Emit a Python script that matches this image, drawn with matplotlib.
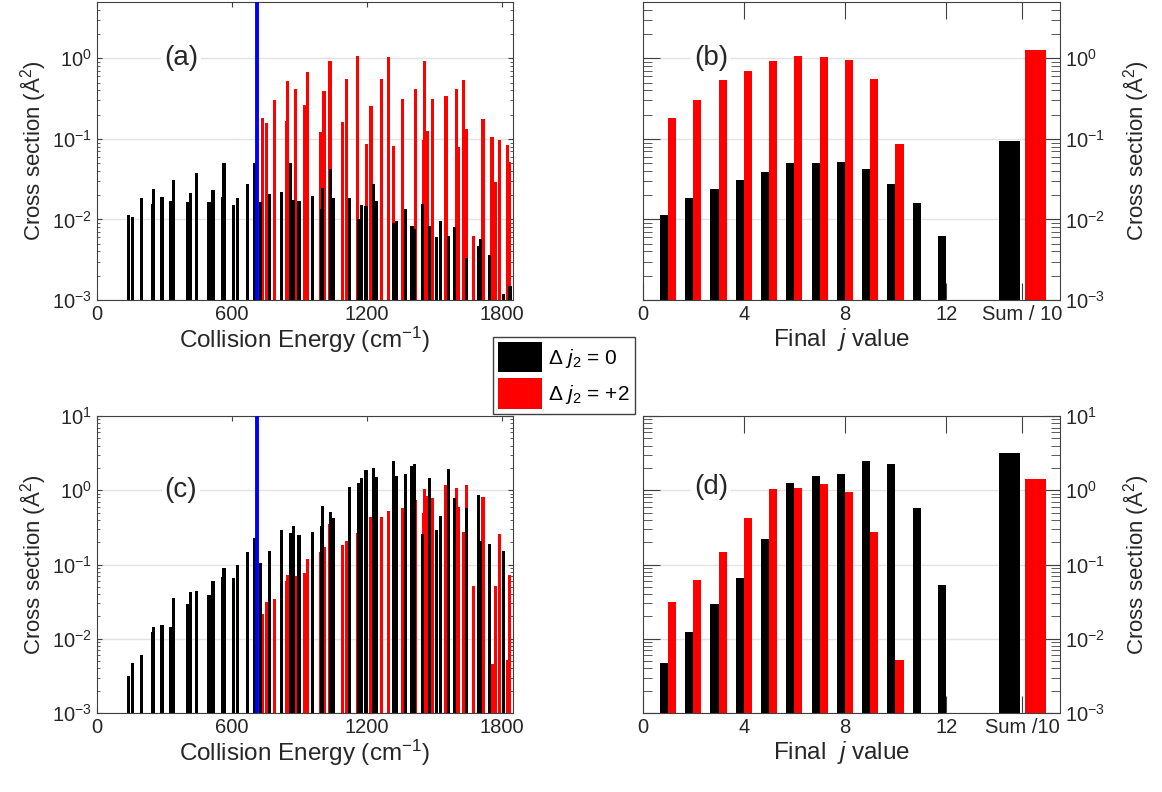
import matplotlib
matplotlib.use("Agg")
import matplotlib.pyplot as plt
from matplotlib.patches import Patch
from matplotlib.ticker import LogLocator, NullFormatter, FixedLocator, FixedFormatter
import numpy as np

plt.rcParams["font.family"] = ["Liberation Sans", "DejaVu Sans"]
plt.rcParams["mathtext.fontset"] = "custom"
plt.rcParams["mathtext.rm"] = "Liberation Sans"
plt.rcParams["mathtext.it"] = "Liberation Sans:italic"
plt.rcParams["mathtext.bf"] = "Liberation Sans:bold"

# collision energies (cm^-1) of the dj2 = 0 channels, with cross sections (A^2)
e_dj0 = [140, 160, 198, 249, 253, 290, 327, 342, 403, 418, 443, 499, 517, 558, 566,
         607, 627, 671, 703, 727, 767, 822, 861, 874, 899, 960, 1000, 1003, 1038, 1050,
         1124, 1163, 1178, 1197, 1231, 1241, 1318, 1333, 1372, 1401, 1411, 1446, 1478,
         1511, 1529, 1564, 1590, 1645, 1698, 1707, 1747, 1807, 1837]
sig_dj0_a = [0.0113, 0.0108, 0.0183, 0.0156, 0.0239, 0.0192, 0.017, 0.031, 0.0163, 0.0211,
             0.0382, 0.0165, 0.0232, 0.0192, 0.0499, 0.0151, 0.0183, 0.0272, 0.0497, 0.0163,
             0.0208, 0.022, 0.0509, 0.0174, 0.0169, 0.0197, 0.0135, 0.0248, 0.042, 0.0182,
             0.0187, 0.0101, 0.0153, 0.0148, 0.0272, 0.017, 0.0091, 0.0095, 0.0133, 0.0083,
             0.0076, 0.0156, 0.0084, 0.0061, 0.0095, 0.0062, 0.008, 0.00335, 0.00463, 0.00565,
             0.00361, 0.00119, 0.00151]
sig_dj0_c = [0.00316, 0.00477, 0.00604, 0.0123, 0.0146, 0.0152, 0.0146, 0.0354, 0.0294, 0.0426,
             0.044, 0.0388, 0.0598, 0.067, 0.0884, 0.0663, 0.099, 0.147, 0.227, 0.104,
             0.151, 0.296, 0.269, 0.325, 0.253, 0.275, 0.325, 0.615, 0.516, 0.42,
             1.097, 1.27, 1.47, 1.9, 1.98, 1.51, 2.48, 1.56, 1.66, 2.15,
             2.24, 0.259, 1.48, 0.296, 0.452, 1.94, 0.788, 0.573, 0.875, 0.206,
             0.188, 0.153, 0.001]

# collision energies of the dj2 = +2 channels
e_dj2 = [735, 754, 791, 843, 849, 884, 923, 935, 996, 1010, 1037, 1093, 1111, 1158, 1200,
         1219, 1264, 1298, 1320, 1358, 1418, 1452, 1455, 1469, 1493, 1552, 1600, 1608,
         1631, 1643, 1676, 1717, 1757, 1772, 1791, 1825, 1834]
sig_dj2_a = [0.18, 0.156, 0.301, 0.169, 0.528, 0.417, 0.267, 0.684, 0.121, 0.39, 0.918,
             0.161, 0.549, 1.06, 0.0867, 0.257, 0.554, 1.04, 0.0826, 0.313, 0.417, 0.0962,
             0.927, 0.127, 0.316, 0.338, 0.413, 0.08, 0.533, 0.131, 0.00615, 0.174, 0.105,
             0.0293, 0.0973, 0.0851, 0.0519]
sig_dj2_c = [0.0215, 0.0308, 0.0345, 0.0603, 0.0711, 0.0697, 0.0757, 0.12, 0.147, 0.173, 0.35,
             0.184, 0.208, 0.269, 0.3, 0.435, 0.442, 0.522, 0.3, 0.585, 0.733, 0.5,
             1.03, 0.835, 0.788, 1.19, 1.07, 0.6, 0.272, 1.19, 0.052, 0.813, 0.00456,
             0.052, 0.256, 0.00516, 0.0733]

threshold = 711  # cm^-1, opening of the dj2 = +2 channel

# final j distributions
j_dj0 = np.arange(1, 13)
j_dj2 = np.arange(1, 11)
fin_dj0_b = [0.0113, 0.0183, 0.0239, 0.031, 0.0385, 0.0499, 0.0499, 0.0513, 0.042, 0.0276,
             0.0159, 0.00624]
fin_dj2_b = [0.182, 0.305, 0.535, 0.693, 0.931, 1.054, 1.033, 0.94, 0.546, 0.0859]
sum_b = [0.0953, 1.276]
fin_dj0_d = [0.00475, 0.0124, 0.0294, 0.0663, 0.219, 1.27, 1.55, 1.66, 2.49, 2.24,
             0.577, 0.0528]
fin_dj2_d = [0.0312, 0.0616, 0.148, 0.423, 1.04, 1.08, 1.2, 0.935, 0.274, 0.00525]
sum_d = [3.16, 1.43]

BLACK = "#000000"
RED = "#ff0000"
AXC = "#404040"
TXT = "#262626"

W, H = 1162, 792
fig = plt.figure(figsize=(W / 100, H / 100), dpi=100)


def box(l, t, r, b):
    return [l / W, 1 - b / H, (r - l) / W, (b - t) / H]


def style(ax, ytop, long_ticks):
    ax.set_yscale("log")
    ax.set_ylim(1e-3, ytop)
    for s in ax.spines.values():
        s.set_color(AXC)
    ax.yaxis.set_major_locator(LogLocator(base=10, numticks=10))
    ax.yaxis.set_minor_locator(LogLocator(base=10, subs=np.arange(2, 10), numticks=20))
    ax.yaxis.set_minor_formatter(NullFormatter())
    ax.grid(True, axis="y", which="major", color="#e2e2e2", lw=1)
    ax.set_axisbelow(True)
    maj, mnr = (12, 6.5) if long_ticks else (3.8, 2.2)
    ax.tick_params(which="both", direction="in", top=True, right=True,
                   color=AXC, labelcolor=TXT, labelsize=14.5)
    ax.tick_params(which="major", length=maj)
    ax.tick_params(which="minor", length=mnr)


def energy_panel(ax, sig0, sig2, ytop):
    ax.bar(e_dj2, sig2, width=14, color=RED, edgecolor="none")
    ax.bar(e_dj0, sig0, width=14, color=BLACK, edgecolor="none")
    style(ax, ytop, False)
    ax.axvline(threshold, color="#0000ff", lw=2.8, zorder=3)
    ax.set_xlim(0, 1850)
    ax.set_xticks([0, 600, 1200, 1800])
    ax.set_xlabel("Collision Energy (cm$^{-1}$)", fontsize=17.5, color=TXT, labelpad=1)
    ax.set_ylabel("Cross section (Å$^2$)", fontsize=16, color=TXT, labelpad=3)


def j_panel(ax, f0, f2, sums, ytop, sumlabel):
    ax.bar(j_dj0 - 0.17, f0, width=0.32, color=BLACK, edgecolor="none")
    ax.bar(j_dj2 + 0.15, f2, width=0.32, color=RED, edgecolor="none")
    ax.bar([14.52], [sums[0]], width=0.83, color=BLACK, edgecolor="none")
    ax.bar([15.52], [sums[1]], width=0.83, color=RED, edgecolor="none")
    style(ax, ytop, True)
    ax.set_xlim(0, 16.5)
    ax.xaxis.set_major_locator(FixedLocator([0, 4, 8, 12, 15]))
    ax.xaxis.set_major_formatter(FixedFormatter(["0", "4", "8", "12", sumlabel]))
    ax.tick_params(axis="y", labelleft=False, labelright=True)
    ax.yaxis.set_label_position("right")
    ax.set_xlabel("Final  $j$ value", fontsize=17.5, color=TXT, labelpad=1)
    ax.xaxis.set_label_coords(0.477, -0.088)
    ax.set_ylabel("Cross section (Å$^2$)", fontsize=16, color=TXT, labelpad=12)


ax_a = fig.add_axes(box(96.7, 2, 513, 300))
ax_b = fig.add_axes(box(643, 2, 1060, 300))
ax_c = fig.add_axes(box(96.7, 416, 513, 713))
ax_d = fig.add_axes(box(643, 416, 1060, 713))

energy_panel(ax_a, sig_dj0_a, sig_dj2_a, 5)
energy_panel(ax_c, sig_dj0_c, sig_dj2_c, 10)
j_panel(ax_b, fin_dj0_b, fin_dj2_b, sum_b, 5, "Sum / 10")
j_panel(ax_d, fin_dj0_d, fin_dj2_d, sum_d, 10, "Sum /10")

for ax, tag, x, y in [(ax_a, "(a)", 0.2025, 0.812), (ax_b, "(b)", 0.163, 0.812),
                      (ax_c, "(c)", 0.2025, 0.751), (ax_d, "(d)", 0.163, 0.762)]:
    ax.text(x, y, tag, transform=ax.transAxes, ha="center", va="center", fontsize=20,
            color=TXT, bbox=dict(facecolor="white", edgecolor="none", pad=2))

handles = [Patch(facecolor=BLACK, edgecolor="none"), Patch(facecolor=RED, edgecolor="none")]
leg = fig.legend(handles, [r"$\Delta\ j_2$ = 0", r"$\Delta\ j_2$ = +2"],
                 loc="upper left", bbox_to_anchor=(493 / W, 1 - 337 / H),
                 fontsize=15, handlelength=2.1, handleheight=1.84, handletextpad=0.3,
                 labelspacing=0.3, borderpad=0.25, borderaxespad=0, fancybox=False,
                 framealpha=1, edgecolor=AXC)
leg.get_frame().set_linewidth(1)

fig.savefig("out.png", dpi=100)
